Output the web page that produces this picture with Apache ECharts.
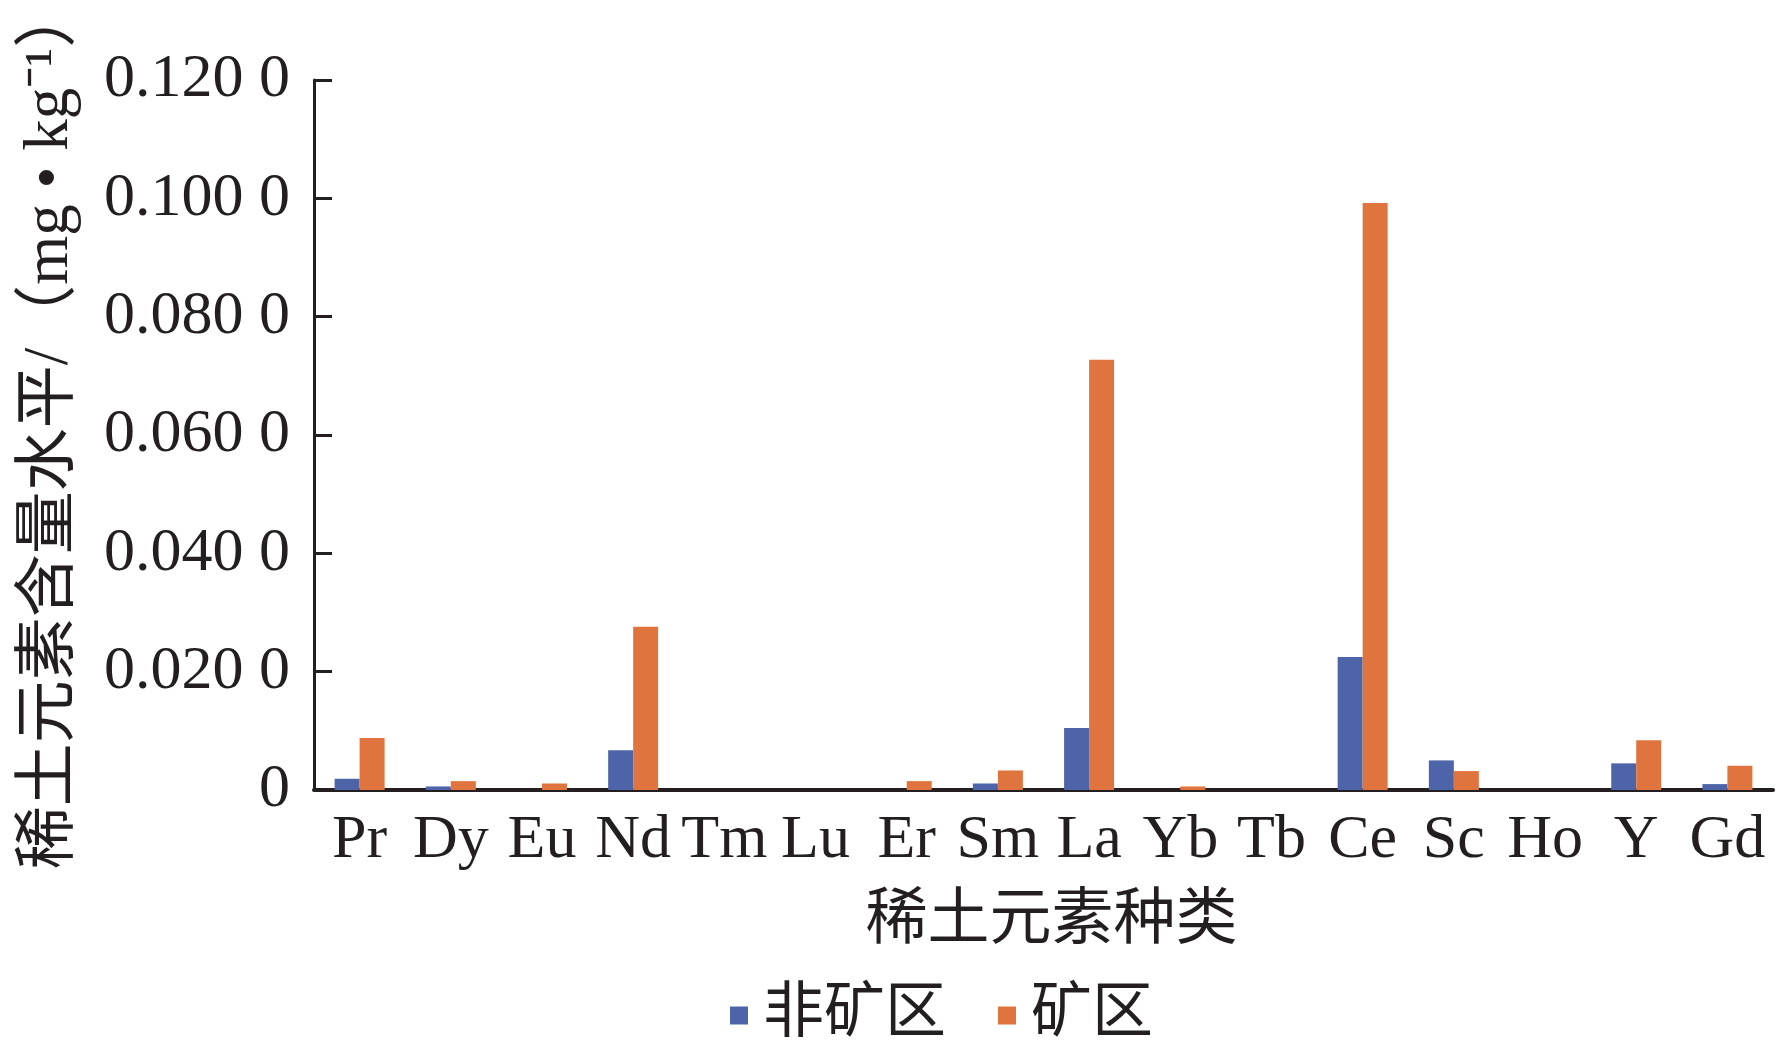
<!DOCTYPE html>
<html>
<head>
<meta charset="utf-8">
<script src="https://cdn.jsdelivr.net/npm/echarts@6/dist/echarts.min.js"></script>
<style>
html,body{margin:0;padding:0;background:#fff;}
#c{width:1791px;height:1049px;}
</style>
</head>
<body>
<div id="c"></div>
<script>
const categories = ['Pr','Dy','Eu','Nd','Tm','Lu','Er','Sm','La','Yb','Tb','Ce','Sc','Ho','Y','Gd'];
const nonMining = [0.0019,0.0006,0,0.0067,0,0,0,0.0011,0.0105,0,0,0.0225,0.0050,0,0.0045,0.0010];
const mining    = [0.0088,0.0015,0.0011,0.0276,0,0,0.0015,0.0033,0.0727,0.0006,0,0.0992,0.0032,0,0.0084,0.0041];
const seriesNames = ['非矿区','矿区'];
const yTickLabels = {0:'0',0.02:'0.020 0',0.04:'0.040 0',0.06:'0.060 0',0.08:'0.080 0',0.1:'0.100 0',0.12:'0.120 0'};

const FONT = '"Liberation Serif","Noto Sans CJK SC",serif';
const INK = '#231f20';
const chart = echarts.init(document.getElementById('c'));
chart.setOption({
  animation:false,
  backgroundColor:'#fff',
  textStyle:{fontFamily:FONT,color:INK},
  grid:{left:314,top:80,right:18,bottom:259,containLabel:false,outerBoundsMode:'none'},
  legend:{
    data:seriesNames,
    left:725, top:980,
    itemWidth:18,itemHeight:18,itemGap:52,
    icon:'rect',
    textStyle:{fontFamily:FONT,fontSize:61,color:INK,padding:[0,0,0,10]}
  },
  xAxis:{
    type:'category',
    data:categories,
    name:'稀土元素种类',
    nameLocation:'middle',
    nameGap:102,
    nameTextStyle:{fontFamily:FONT,fontSize:62,color:INK,padding:[0,0,0,16]},
    axisLine:{lineStyle:{color:INK,width:4}},
    axisTick:{show:false},
    axisLabel:{fontFamily:FONT,fontSize:62,color:INK,margin:20,interval:0}
  },
  yAxis:{
    type:'value',
    min:0,max:0.12,interval:0.02,
    name:'稀土元素含量水平/（mg • kg⁻¹）',
    nameLocation:'middle',
    nameRotate:90,
    nameGap:232,
    nameTextStyle:{fontFamily:FONT,fontSize:63,color:INK,padding:[0,0,0,16]},
    axisLine:{show:true,lineStyle:{color:INK,width:3}},
    axisTick:{show:true,inside:true,length:18,lineStyle:{color:INK,width:3}},
    splitLine:{show:false},
    axisLabel:{fontFamily:FONT,fontSize:62,color:INK,margin:24,
      formatter:function(v){const k=Math.round(v*100)/100;return yTickLabels[k]!==undefined?yTickLabels[k]:v;}}
  },
  series:[
    {name:seriesNames[0],type:'bar',data:nonMining,barWidth:25,barGap:'0%',itemStyle:{color:'#4d64a8'}},
    {name:seriesNames[1],type:'bar',data:mining,barWidth:25,barGap:'0%',itemStyle:{color:'#e0743e'}}
  ]
});
</script>
</body>
</html>
